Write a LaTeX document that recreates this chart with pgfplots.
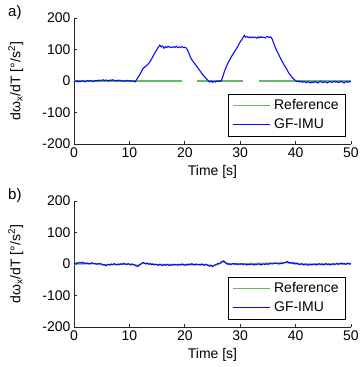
\documentclass[border=0pt]{standalone}
\usepackage{pgfplots}
\pgfplotsset{compat=1.18}
\usepackage{fontspec}
\setmainfont{Liberation Sans}
\definecolor{refgreen}{RGB}{100,185,100}
\definecolor{imublue}{RGB}{10,10,255}
\pgfplotsset{
  myaxis/.style={
    scale only axis, width=277pt, height=126pt,
    xmin=0, xmax=50, ymin=-200, ymax=200,
    xtick={0,10,20,30,40,50}, ytick={-200,-100,0,100,200},
    axis x line*=bottom, axis y line*=left,
    axis line style={-, black!85, line width=0.6pt},
    tick align=inside, major tick length=3pt,
    tick style={black!85, line width=0.6pt},
    /pgf/number format/assume math mode=true,
    ticklabel style={font=\fontsize{14}{16}\selectfont},
    xtick pos=bottom, ytick pos=left,
    xlabel={Time [s]},
    xlabel style={font=\fontsize{14}{16}\selectfont, at={(axis description cs:0.5,0)}, anchor=center, yshift=-28pt},
    ylabel={dω\textsubscript{x}/dT [°/s\textsuperscript{2}]},
    ylabel style={font=\fontsize{14}{16}\selectfont, at={(axis description cs:-0.21,0.5)}, anchor=center},
    unbounded coords=jump,
    legend cell align=left,
    legend style={at={(0.982,0.056)}, anchor=south east, draw=black, line width=0.6pt,
      font=\fontsize{14}{16}\selectfont, inner xsep=4pt, inner ysep=2pt, row sep=0pt,
      nodes={text height=10pt, text depth=3pt, inner sep=3pt}},
  }
}
\begin{document}
\begin{tikzpicture}
\begin{axis}[myaxis, at={(74pt,-18pt)}, anchor=north west]
\addlegendimage{refgreen, legend image code/.code={\draw[refgreen, line width=1.4pt] (0pt,0.5pt) -- (37pt,0.5pt);}}
\addlegendentry{Reference}
\addlegendimage{imublue, legend image code/.code={\draw[imublue, line width=1.4pt] (0pt,0.5pt) -- (37pt,0.5pt);}}
\addlegendentry{GF-IMU}
\addplot[refgreen, line width=1.3pt, forget plot] coordinates {(0,0) (19.5,0) (20,nan) (22.2,0) (30.5,0) (31,nan) (33.4,0) (50,0)};
\addplot[imublue, line width=1.1pt, forget plot] coordinates {
(0,-1) (0.25,-2) (0.5,1) (0.75,-3) (1,0) (1.25,-2) (1.5,1) (1.75,-1) (2,-3) (2.25,0) (2.5,2) (2.75,-1) (3,1) (3.25,0) (3.5,-2) (3.75,1) (4,2) (4.25,0) (4.5,3) (4.75,1) (5,2) (5.25,4) (5.5,1) (5.75,3) (6,2) (6.25,0) (6.5,3) (6.75,2) (7,4) (7.25,1) (7.5,2) (7.75,0) (8,3) (8.25,1) (8.5,2) (8.75,0) (9,1) (9.25,-1) (9.5,2) (9.75,0) (10,1) (10.25,-1) (10.5,1) (10.75,0) (11,-3)
(11.25,3) (11.5,10) (11.75,17) (12,24) (12.25,33) (12.5,40) (12.75,44) (13,47) (13.25,52) (13.5,56) (13.75,62) (14,70) (14.25,78) (14.5,86) (14.75,94) (15,101) (15.25,108) (15.5,114) (15.75,108) (16,111) (16.25,104) (16.5,109) (16.75,106) (17,110) (17.25,107) (17.5,108) (17.75,106) (18,109) (18.25,107) (18.5,110) (18.75,106) (19,108) (19.25,107) (19.5,109) (19.75,106) (20,107) (20.25,105)
(20.5,98) (20.75,88) (21,76) (21.25,68) (21.5,62) (21.75,56) (22,50) (22.25,44) (22.5,38) (22.75,32) (23,26) (23.25,20) (23.5,15) (23.75,10) (24,5) (24.25,1) (24.5,-3) (24.75,0) (25,-4) (25.25,-1) (25.5,-3) (25.75,0) (26,-2) (26.25,1) (26.5,-1)
(26.75,8) (27,22) (27.25,35) (27.5,45) (27.75,56) (28,64) (28.25,72) (28.5,80) (28.75,87) (29,94) (29.25,100) (29.5,108) (29.75,116) (30,124) (30.25,131) (30.5,137) (30.75,145)
(31,139) (31.25,141) (31.5,138) (31.75,140) (32,137) (32.25,140) (32.5,138) (32.75,139) (33,136) (33.25,140) (33.5,137) (33.75,141) (34,138) (34.25,139) (34.5,137) (34.75,140) (35,141) (35.25,138) (35.5,140) (35.75,134)
(36,122) (36.25,110) (36.5,100) (36.75,91) (37,82) (37.25,73) (37.5,65) (37.75,57) (38,49) (38.25,42) (38.5,34) (38.75,26) (39,20) (39.25,14) (39.5,9) (39.75,5) (40,1) (40.25,-2) (40.5,0) (40.75,-3) (41,-1) (41.25,-4) (41.5,-2)
(41.75,-3) (42,-5) (42.25,-2) (42.5,-4) (42.75,-6) (43,-3) (43.25,-5) (43.5,-2) (43.75,-4) (44,-6) (44.25,-3) (44.5,-1) (44.75,-4) (45,-5) (45.25,-2) (45.5,-4) (45.75,-6) (46,-3) (46.25,-2) (46.5,-5) (46.75,-3) (47,-1) (47.25,-4) (47.5,-2) (47.75,-5) (48,-3) (48.25,-1) (48.5,-4) (48.75,-6) (49,-3) (49.25,-2) (49.5,-4) (49.75,-2) (50,-3)
};
\end{axis}
\begin{axis}[myaxis, at={(74pt,-201pt)}, anchor=north west]
\addlegendimage{refgreen, legend image code/.code={\draw[refgreen, line width=1.4pt] (0pt,0.5pt) -- (37pt,0.5pt);}}
\addlegendentry{Reference}
\addlegendimage{imublue, legend image code/.code={\draw[imublue, line width=1.4pt] (0pt,0.5pt) -- (37pt,0.5pt);}}
\addlegendentry{GF-IMU}
\addplot[refgreen, line width=1.3pt, forget plot] coordinates {(0,0) (4,1) (5.5,-3) (10,0) (11.5,-4) (12.5,3) (15,-2) (24,-2) (25,-6) (26,-1) (27,7) (28,0) (38.5,4) (40,0) (50,0)};
\addplot[imublue, line width=1.1pt, forget plot] coordinates {
(0,3) (0.25,1) (0.5,4) (0.75,2) (1,5) (1.25,3) (1.5,6) (1.75,2) (2,4) (2.25,1) (2.5,3) (2.75,0) (3,2) (3.25,4) (3.5,1) (3.75,2) (4,-1) (4.25,1) (4.5,0) (4.75,2) (5,-1) (5.25,-3) (5.5,-2) (5.75,-5) (6,-3) (6.25,-1) (6.5,-3) (6.75,0) (7,-2) (7.25,1) (7.5,-1) (7.75,-3) (8,0) (8.25,-2) (8.5,1) (8.75,-1) (9,2) (9.25,0) (9.5,-2) (9.75,1) (10,-1) (10.25,-3) (10.5,0) (10.75,-2) (11,-4) (11.25,-6) (11.5,-8) (11.75,-5) (12,-1) (12.25,3) (12.5,5) (12.75,2) (13,0) (13.25,3) (13.5,-1) (13.75,1) (14,-2) (14.25,0) (14.5,-3) (14.75,-1)
(15,-2) (15.25,-4) (15.5,-1) (15.75,-3) (16,-5) (16.25,-2) (16.5,-4) (16.75,-1) (17,-3) (17.25,-5) (17.5,-2) (17.75,-4) (18,-1) (18.25,-3) (18.5,-2) (18.75,-4) (19,-1) (19.25,-3) (19.5,0) (19.75,-2) (20,-4) (20.25,-1) (20.5,-3) (20.75,0) (21,-2) (21.25,1) (21.5,-1) (21.75,-3) (22,0) (22.25,-2) (22.5,-1) (22.75,-3) (23,0) (23.25,-2) (23.5,-4) (23.75,-1) (24,-3) (24.25,-5) (24.5,-7) (24.75,-4) (25,-8) (25.25,-5) (25.5,-3) (25.75,-1) (26,2) (26.25,1) (26.5,5) (26.75,8) (27,10) (27.25,6) (27.5,2) (27.75,-1)
(28,1) (28.25,-2) (28.5,0) (28.75,2) (29,-1) (29.25,1) (29.5,-2) (29.75,0) (30,-1) (30.25,1) (30.5,-2) (30.75,0) (31,-1) (31.25,-3) (31.5,-1) (31.75,-2) (32,0) (32.25,-2) (32.5,-3) (32.75,-1) (33,-2) (33.25,0) (33.5,-1) (33.75,-3) (34,-1) (34.25,0) (34.5,-2) (34.75,1) (35,-1) (35.25,0) (35.5,2) (35.75,0) (36,1) (36.25,3) (36.5,1) (36.75,2) (37,0) (37.25,2) (37.5,1) (37.75,3) (38,4) (38.25,6) (38.5,8) (38.75,5) (39,3) (39.25,5) (39.5,2) (39.75,4)
(40,1) (40.25,3) (40.5,0) (40.75,-2) (41,1) (41.25,-1) (41.5,-3) (41.75,0) (42,-2) (42.25,-4) (42.5,-1) (42.75,-3) (43,-1) (43.25,-2) (43.5,0) (43.75,-3) (44,-1) (44.25,1) (44.5,-2) (44.75,0) (45,-3) (45.25,-1) (45.5,1) (45.75,-2) (46,0) (46.25,-3) (46.5,-1) (46.75,1) (47,-2) (47.25,0) (47.5,2) (47.75,-1) (48,1) (48.25,3) (48.5,0) (48.75,2) (49,-1) (49.25,1) (49.5,3) (49.75,0) (50,1)
};
\end{axis}
\node[anchor=north west, inner sep=0pt, font=\fontsize{15}{17}\selectfont] at (8pt,-5pt) {a)};
\node[anchor=north west, inner sep=0pt, font=\fontsize{15}{17}\selectfont] at (8pt,-188pt) {b)};
\pgfresetboundingbox
\useasboundingbox (0,0) rectangle (359pt,-367pt);
\end{tikzpicture}
\end{document}
